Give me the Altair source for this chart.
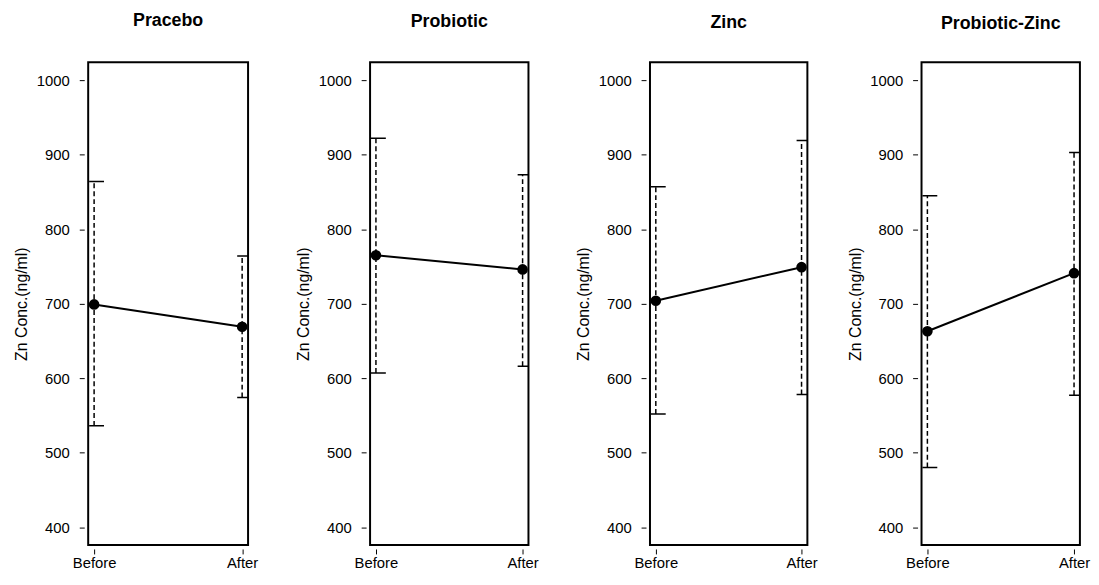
import altair as alt
import pandas as pd

groups = ["Pracebo", "Probiotic", "Zinc", "Probiotic-Zinc"]
times = ["Before", "After"]
means = [[699, 669], [765, 746], [704, 749], [663, 741]]
lower = [[536, 574], [607, 616], [552, 578], [480, 577]]
upper = [[864, 764], [922, 873], [857, 919], [845, 903]]
y_ticks = [400, 500, 600, 700, 800, 900, 1000]

widths = [161.5, 160, 159, 160]
title_offsets = [33, 31.3, 30.3, 29.3]
FONT = "Liberation Sans"


def panel(i):
    df = pd.DataFrame({"time": times, "mean": means[i], "lo": lower[i], "hi": upper[i]})
    base = alt.Chart(df)
    xax = alt.Axis(title=None, labelAngle=0, domain=False, ticks=True, tickSize=5,
                   tickColor="black", offset=4, labelPadding=2, labelFontSize=15,
                   labelFont=FONT, labelColor="black", grid=False)
    x = alt.X("time:N", sort=times, scale=alt.Scale(type="point", padding=0.04), axis=xax)
    yscale = alt.Scale(domain=[376, 1024], nice=False, zero=False)
    yax = alt.Axis(title="Zn Conc.(ng/ml)", values=y_ticks, format="d", domain=False,
                   tickSize=5, tickColor="black", offset=4, labelPadding=10,
                   minExtent=49, maxExtent=49, titlePadding=6, grid=False,
                   labelFontSize=15, labelFont=FONT, labelColor="black",
                   titleFontSize=16, titleFont=FONT, titleFontWeight="normal",
                   titleColor="black")
    bars = base.mark_rule(strokeDash=[5, 3], strokeWidth=1.5, color="black").encode(
        x=x, y=alt.Y("lo:Q", scale=yscale, axis=yax), y2="hi:Q")
    cap_lo = base.mark_tick(thickness=1.5, size=15, xOffset=2.5, color="black", clip=True,
                            opacity=1).encode(x=x, y=alt.Y("lo:Q", scale=yscale, axis=yax))
    cap_hi = base.mark_tick(thickness=1.5, size=15, xOffset=2.5, color="black", clip=True,
                            opacity=1).encode(x=x, y=alt.Y("hi:Q", scale=yscale, axis=yax))
    line = base.mark_line(color="black", strokeWidth=2).encode(
        x=x, y=alt.Y("mean:Q", scale=yscale, axis=yax))
    pts = base.mark_circle(size=115, color="black", opacity=1).encode(
        x=x, y=alt.Y("mean:Q", scale=yscale, axis=yax))
    return alt.layer(bars, cap_lo, cap_hi, line, pts).properties(
        width=widths[i], height=487.6,
        title=alt.TitleParams(groups[i], offset=title_offsets[i], fontSize=18,
                              fontWeight="bold", font=FONT, anchor="middle",
                              frame="group", color="black"))


inner = alt.hconcat(panel(0), panel(1), panel(2), spacing=35.75)
chart = alt.hconcat(inner, panel(3), spacing=27.8).properties(
    padding={"left": 5, "top": 0, "right": 0, "bottom": 0}
).configure(background="white").configure_view(stroke="black", strokeWidth=2)

chart.save("out.html", embed_options={"renderer": "svg", "actions": False})
